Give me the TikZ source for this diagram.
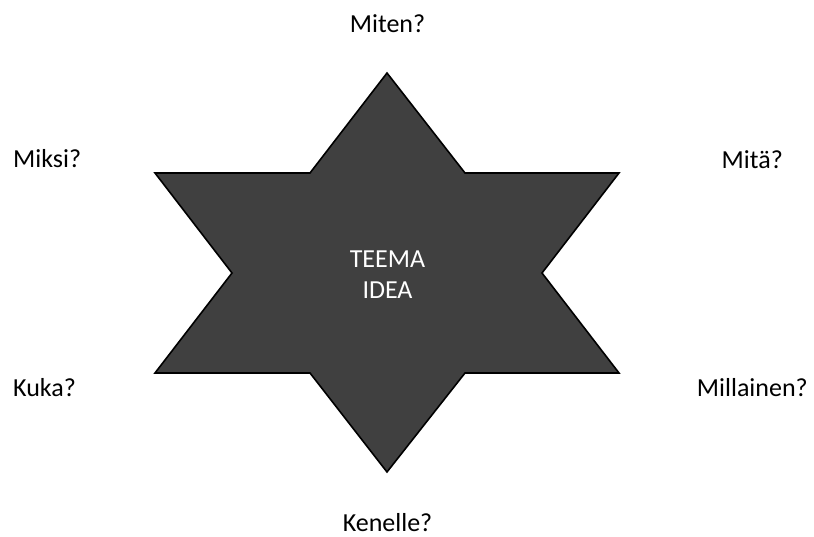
\documentclass[tikz,border=0pt]{standalone}
\usepackage{fontspec}
\setmainfont{Carlito}
\usepackage{xcolor}

\begin{document}
\begin{tikzpicture}[
    x=1pt, y=-1pt,
    line cap=round,
    line join=miter,
    every node/.style={font=\fontsize{26}{31}\selectfont, inner sep=0pt},
    qlabel/.style={text=black}
]

\definecolor{stargray}{RGB}{64,64,64}

\useasboundingbox (0,0) rectangle (814,537);

% -----------------------------
% Star (hexagram)
% -----------------------------
\coordinate (mid) at (387,272.5);

\draw[black, fill=stargray, line width=1.6pt]
(387,73) -- (465,173) -- (619,173) -- (542,273) -- (619,373)
-- (465,373) -- (387,472) -- (310,373) -- (155,373) -- (232,273)
-- (155,173) -- (310,173) -- cycle;

\node[white, align=center] (idea) at (387.5,275) {TEEMA\\IDEA};

% -----------------------------
% Questions round the star
% -----------------------------
\node[qlabel, anchor=base] (miten) at (387.5,33) {Miten?};
\node[qlabel, anchor=base west] (miksi) at (13,168) {Miksi?};
\node[qlabel, anchor=base east] (mita) at (783,169) {Mitä?};
\node[qlabel, anchor=base west] (kuka) at (13,396) {Kuka?};
\node[qlabel, anchor=base east] (millainen) at (808,396) {Millainen?};
\node[qlabel, anchor=base] (kenelle) at (387.5,531) {Kenelle?};

\end{tikzpicture}
\end{document}
